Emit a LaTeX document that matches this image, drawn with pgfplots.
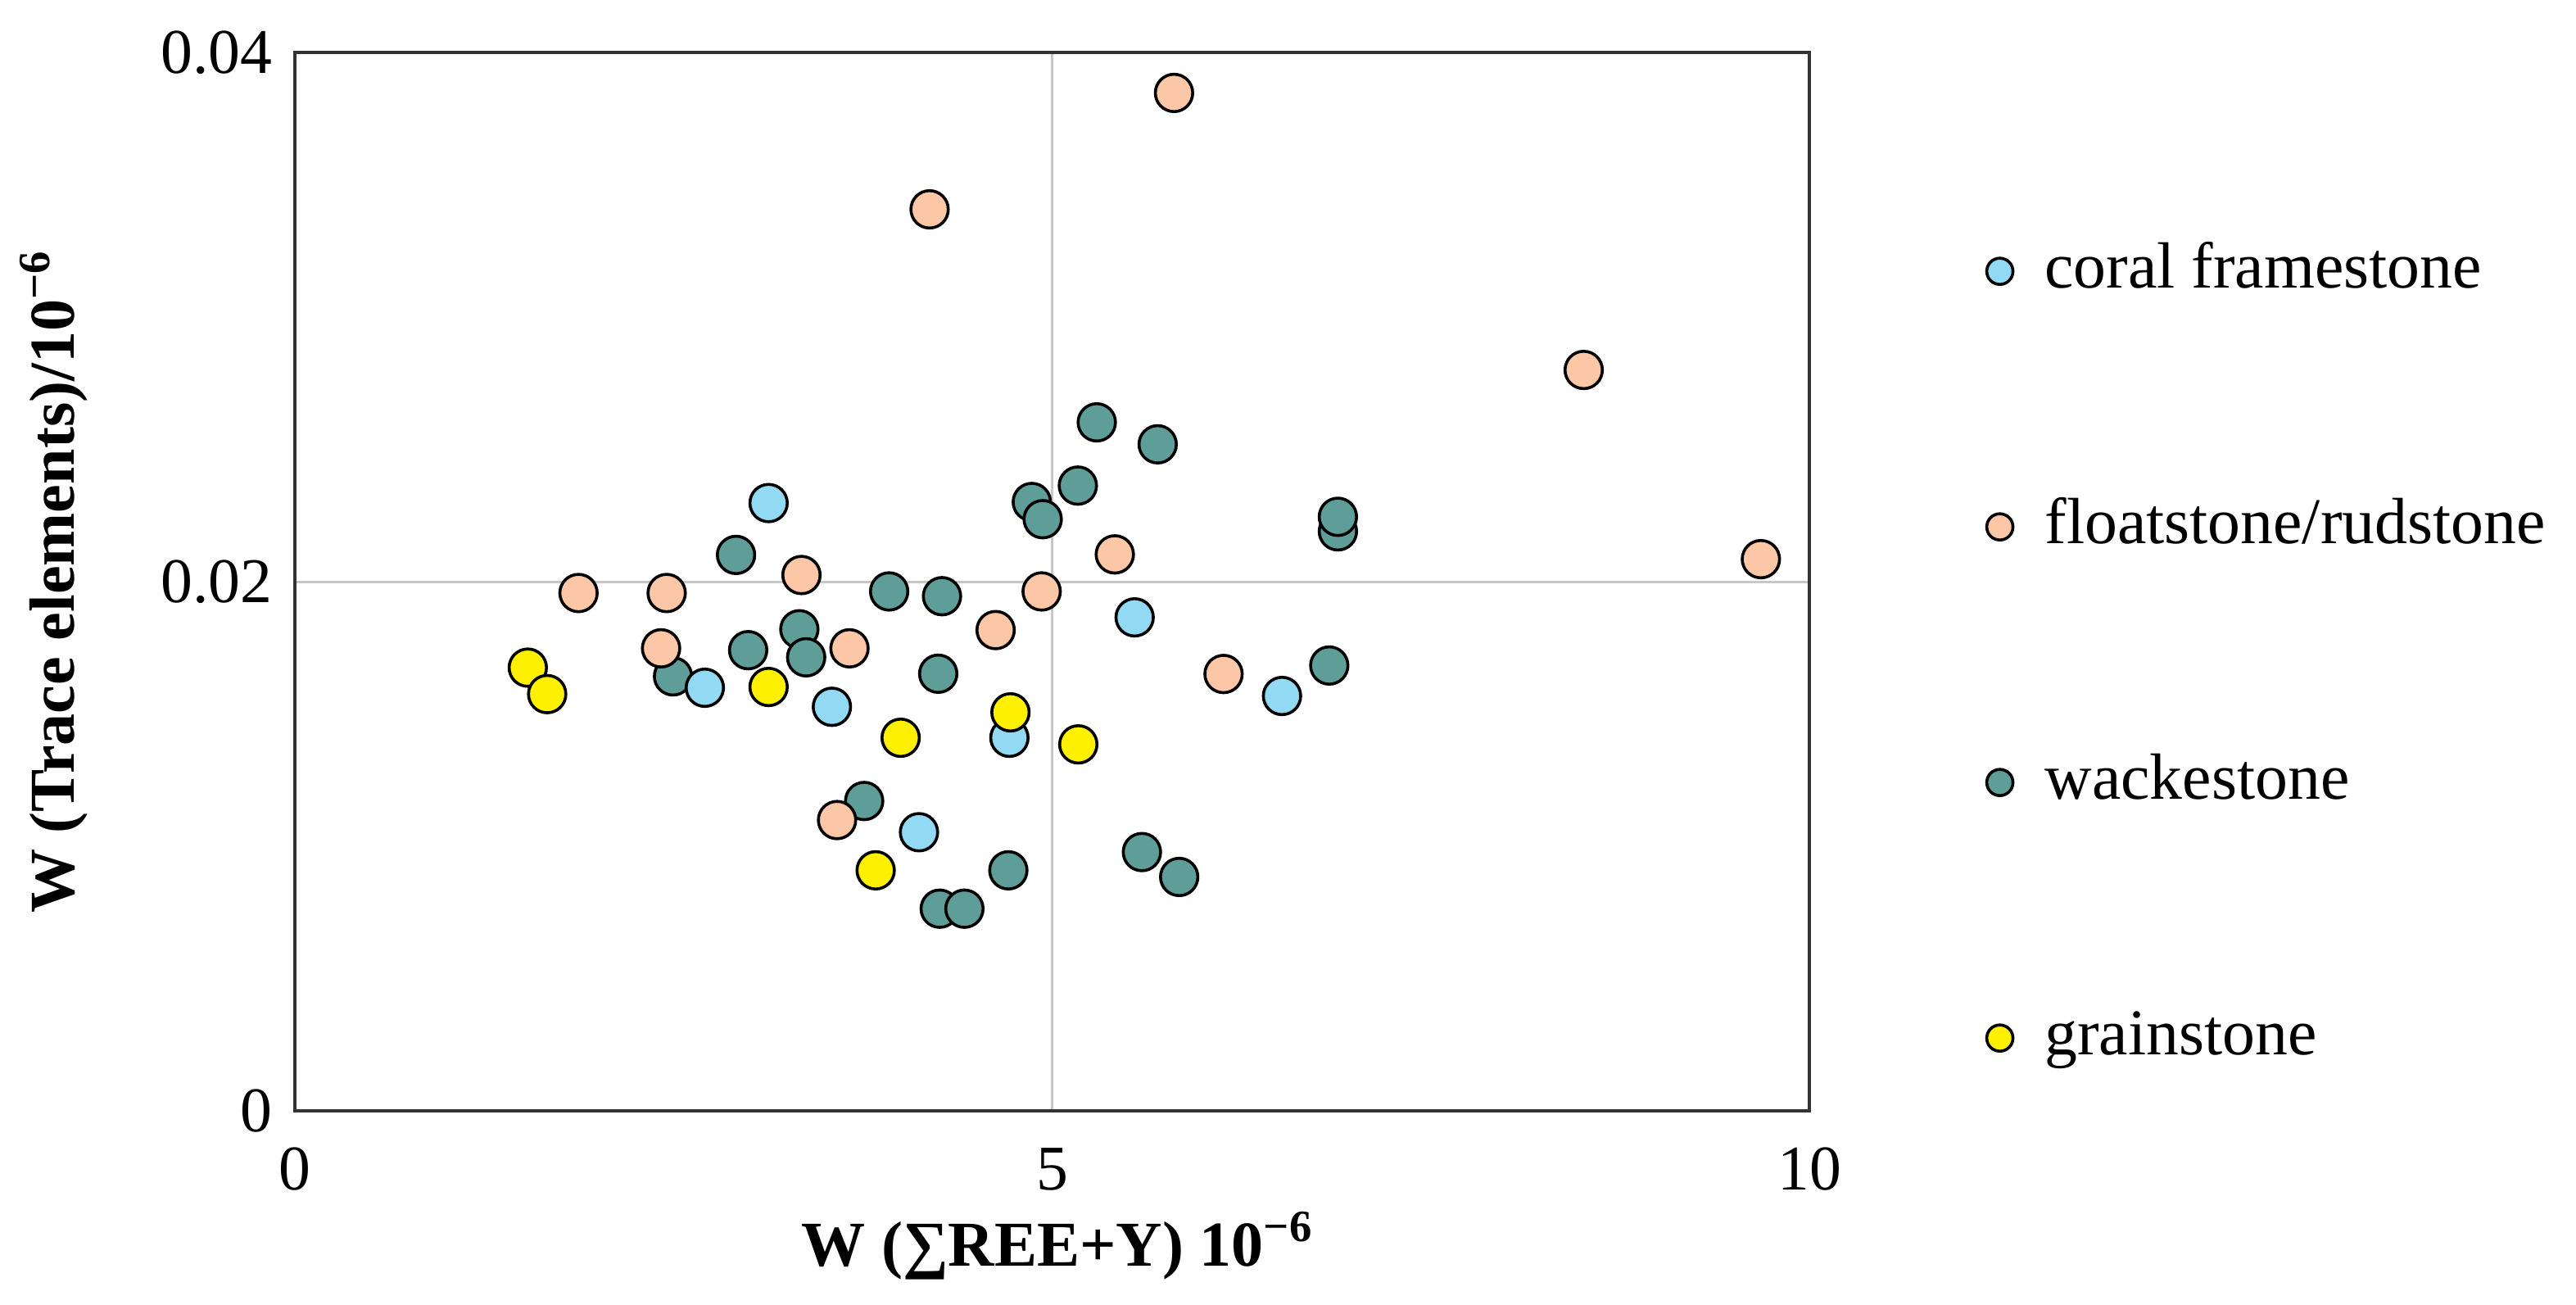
\documentclass[border=0pt]{standalone}
\usepackage{fontspec}
\setmainfont{Liberation Serif}
\usepackage{pgfplots}
\pgfplotsset{compat=1.18}
\definecolor{coralc}{RGB}{146,217,243}
\definecolor{floatc}{RGB}{252,199,167}
\definecolor{wackec}{RGB}{95,158,152}
\definecolor{grainc}{RGB}{255,240,0}
\begin{document}
\begin{tikzpicture}
\useasboundingbox (-90bp,-59.25bp) rectangle (696.25bp,339bp);
\begin{axis}[
  at={(0,0)}, anchor=south west,
  scale only axis, width=462.25bp, height=323bp,
  xmin=0, xmax=10, ymin=0, ymax=0.04,
  xtick={0,5,10}, ytick={0,0.02,0.04},
  xticklabels={0,5,10}, yticklabels={0,0.02,0.04},
  scaled x ticks=false, scaled y ticks=false,
  major tick length=0pt,
  grid=major, major grid style={line width=0.75bp, color=black!22},
  axis line style={line width=1.1bp, color=black!80},
  tick label style={font=\fontsize{19.5}{22}\selectfont},
  xticklabel style={anchor=center, yshift=-17.75bp},
  yticklabel style={anchor=east, inner sep=0pt, xshift=-6.75bp},
  label style={font=\fontsize{19.6}{24}\selectfont\bfseries},
  xlabel={W (∑REE+Y) 10\textsuperscript{−6}},
  ylabel={W (Trace elements)/10\textsuperscript{−6}},
  xlabel style={at={(axis description cs:0.5035,-0.1277)}, anchor=center},
  ylabel style={at={(axis description cs:-0.159,0.5)}, anchor=center},
  legend style={at={(axis description cs:1.1167,0.8217)}, anchor=north west,
    draw=none, fill=none, inner sep=0pt,
    font=\fontsize{20}{24}\selectfont,
    row sep=60bp, column sep=9.75bp,
    nodes={inner sep=0pt, text height=14bp, text depth=4bp}},
  legend cell align=left,
  legend image code/.code={\draw[#1] plot coordinates {(0bp,0bp)};},
  every axis plot/.append style={only marks, mark=*, mark size=5.7bp},
]
\addlegendimage{only marks, mark=*, mark size=4bp, mark options={fill=coralc, draw=black, line width=0.9bp}}
\addlegendimage{only marks, mark=*, mark size=4bp, mark options={fill=floatc, draw=black, line width=0.9bp}}
\addlegendimage{only marks, mark=*, mark size=4bp, mark options={fill=wackec, draw=black, line width=0.9bp}}
\addlegendimage{only marks, mark=*, mark size=4bp, mark options={fill=grainc, draw=black, line width=0.9bp}}
\legend{coral framestone, floatstone/rudstone, wackestone, grainstone}

% wackestone
\addplot[forget plot, mark options={fill=wackec, draw=black, line width=0.9bp}] table {
x y
5.295 0.02602
5.697 0.02519
5.170 0.02363
4.866 0.02301
4.938 0.02236
6.887 0.02190
6.887 0.02245
2.913 0.02101
3.924 0.01963
4.273 0.01945
2.497 0.01642
2.993 0.01741
3.331 0.01820
3.376 0.01714
4.248 0.01652
6.830 0.01683
3.759 0.01171
4.711 0.00909
5.593 0.00978
5.839 0.00884
4.258 0.00764
4.421 0.00764
};
% floatstone/rudstone
\addplot[forget plot, mark options={fill=floatc, draw=black, line width=0.9bp}] table {
x y
5.805 0.03847
4.191 0.03407
8.510 0.02800
9.680 0.02085
1.873 0.01957
2.455 0.01957
3.345 0.02025
5.414 0.02103
4.931 0.01963
2.418 0.01748
3.662 0.01748
4.627 0.01817
6.132 0.01651
3.580 0.01099
};
% coral framestone
\addplot[forget plot, mark options={fill=coralc, draw=black, line width=0.9bp}] table {
x y
3.128 0.02297
2.707 0.01599
3.546 0.01527
4.718 0.01410
5.545 0.01865
4.121 0.01053
6.518 0.01568
};
% grainstone
\addplot[forget plot, mark options={fill=grainc, draw=black, line width=0.9bp}] table {
x y
1.538 0.01675
1.666 0.01575
3.128 0.01602
4.000 0.01410
4.725 0.01506
5.173 0.01385
3.835 0.00909
};
\end{axis}
\end{tikzpicture}
\end{document}
